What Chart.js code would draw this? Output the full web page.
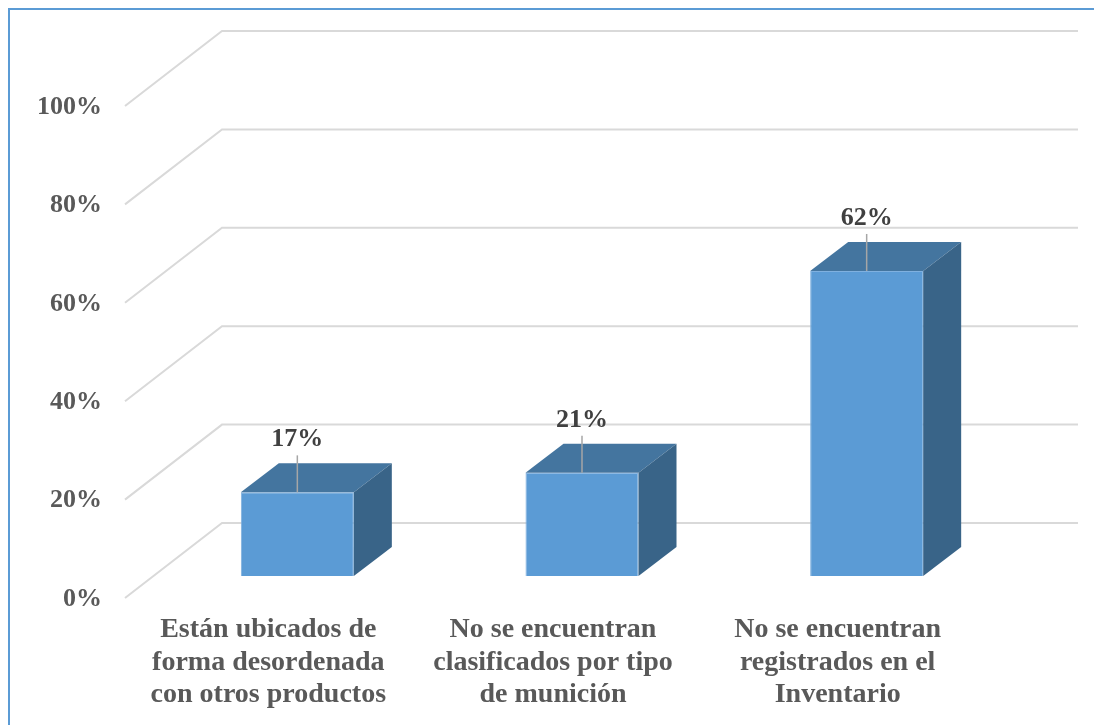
<!DOCTYPE html>
<html>
<head>
<meta charset="utf-8">
<script src="https://cdn.jsdelivr.net/npm/chart.js@4.4.1/dist/chart.umd.min.js"></script>
<style>
  html, body { margin: 0; padding: 0; background: #fff; }
  canvas { display: block; }
</style>
</head>
<body>
<canvas id="chart" width="1094" height="725"></canvas>
<script>
// data
const categories = [
  ["Están ubicados de", "forma desordenada", "con otros productos"],
  ["No se encuentran", "clasificados por tipo", "de munición"],
  ["No se encuentran", "registrados en el", "Inventario"]
];
const values = [17, 21, 62];
const yTicks = [0, 20, 40, 60, 80, 100];

const FONT = "'Liberation Serif', 'Times New Roman', serif";

// fake 3d: offsets of back wall, front floor edge and bar depth
const WALL = { dx: 67, dy: -53 };
const FRONT = { dx: -30, dy: 22 };
const DEPTH = { dx: 38, dy: -29 };

const box3d = {
  id: "box3d",
  beforeDraw(chart) {
    const ctx = chart.ctx;
    ctx.save();
    ctx.strokeStyle = "#5B9BD5";
    ctx.lineWidth = 2;
    ctx.beginPath();
    ctx.moveTo(9, 725);
    ctx.lineTo(9, 9);
    ctx.lineTo(1094, 9);
    ctx.stroke();
    ctx.restore();
  },
  beforeDatasetsDraw(chart) {
    const { ctx, chartArea: a, scales: { y } } = chart;
    ctx.save();
    ctx.strokeStyle = "#D9D9D9";
    ctx.lineWidth = 2;
    yTicks.forEach(v => {
      const py = y.getPixelForValue(v);
      ctx.beginPath();
      ctx.moveTo(a.left + FRONT.dx, py + FRONT.dy);
      ctx.lineTo(a.left + WALL.dx, py + WALL.dy);
      ctx.lineTo(a.right + WALL.dx + 2, py + WALL.dy);
      ctx.stroke();
    });
    ctx.restore();
  },
  afterDatasetsDraw(chart) {
    const ctx = chart.ctx;
    const bars = chart.getDatasetMeta(0).data;
    ctx.save();
    bars.forEach((bar, i) => {
      const { x, y, base, width } = bar.getProps(["x", "y", "base", "width"], true);
      const l = x - width / 2, r = x + width / 2;
      // top face
      ctx.fillStyle = "#44759F";
      ctx.beginPath();
      ctx.moveTo(l, y);
      ctx.lineTo(l + DEPTH.dx, y + DEPTH.dy);
      ctx.lineTo(r + DEPTH.dx, y + DEPTH.dy);
      ctx.lineTo(r, y);
      ctx.closePath();
      ctx.fill();
      // side face
      ctx.fillStyle = "#396488";
      ctx.beginPath();
      ctx.moveTo(r, y);
      ctx.lineTo(r + DEPTH.dx, y + DEPTH.dy);
      ctx.lineTo(r + DEPTH.dx, base + DEPTH.dy);
      ctx.lineTo(r, base);
      ctx.closePath();
      ctx.fill();
      // leader line + label
      ctx.strokeStyle = "#A6A6A6";
      ctx.lineWidth = 1.5;
      ctx.beginPath();
      ctx.moveTo(x, y - 37);
      ctx.lineTo(x, y);
      ctx.stroke();
      ctx.fillStyle = "#404040";
      ctx.font = "bold 26px " + FONT;
      ctx.textAlign = "center";
      ctx.textBaseline = "alphabetic";
      ctx.fillText(values[i] + "%", x, y - 46);
    });
    ctx.restore();
  }
};

new Chart(document.getElementById("chart"), {
  type: "bar",
  data: {
    labels: categories,
    datasets: [{
      data: values,
      backgroundColor: "#5B9BD5",
      borderColor: "#7FB0DF",
      borderWidth: 1,
      categoryPercentage: 1,
      barPercentage: 0.397
    }]
  },
  options: {
    responsive: false,
    animation: false,
    devicePixelRatio: 1,
    layout: { padding: { top: 84, right: 85, left: 0, bottom: 0 } },
    plugins: { legend: { display: false }, tooltip: { enabled: false } },
    scales: {
      x: {
        grid: { display: false, drawTicks: false },
        border: { display: false },
        ticks: {
          color: "#595959",
          padding: 38,
          labelOffset: -29,
          maxRotation: 0,
          font: { family: FONT, size: 28, weight: "bold", lineHeight: 1.16 }
        },
        afterFit: s => { s.height = 149; }
      },
      y: {
        min: 0,
        max: 100,
        afterBuildTicks: s => { s.ticks = yTicks.map(v => ({ value: v })); },
        grid: { display: false, drawTicks: false },
        border: { display: false },
        ticks: {
          color: "#595959",
          padding: 53,
          labelOffset: 23,
          callback: v => v + "%",
          font: { family: FONT, size: 26, weight: "bold" }
        },
        afterFit: s => { s.width = 155; }
      }
    }
  },
  plugins: [box3d]
});
</script>
</body>
</html>
